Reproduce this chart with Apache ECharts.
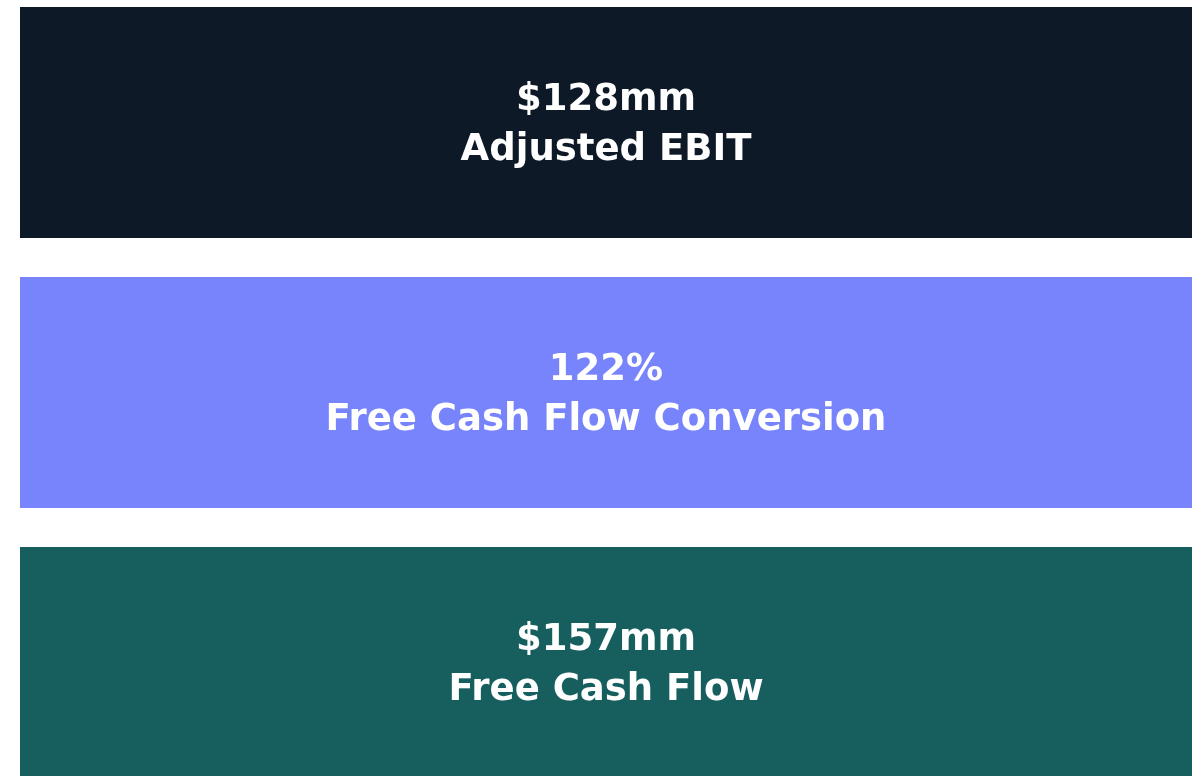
<!DOCTYPE html>
<html>
<head>
<meta charset="utf-8">
<script src="https://cdn.jsdelivr.net/npm/echarts@6/dist/echarts.min.js"></script>
<style>
html,body{margin:0;padding:0;background:#fff;}
#chart{width:1201px;height:776px;}
</style>
</head>
<body>
<div id="chart"></div>
<script>
var categories = ['Adjusted EBIT', 'Free Cash Flow Conversion', 'Free Cash Flow'];
var headlines = ['$128mm', '122%', '$157mm'];
var values = [1, 1, 1];
var colors = ['#0d1927', '#7884fc', '#175e5f'];

var chart = echarts.init(document.getElementById('chart'));
chart.setOption({
  animation: false,
  grid: { left: 20, right: 9, top: 122.5, bottom: 113.5 },
  xAxis: { type: 'value', min: 0, max: 1, show: false },
  yAxis: { type: 'category', data: categories, inverse: true, boundaryGap: false, show: false },
  series: [{
    type: 'bar',
    barWidth: 231,
    clip: false,
    data: values.map(function (v, i) {
      return { value: v, itemStyle: { color: colors[i] } };
    }),
    label: {
      show: true,
      position: 'inside',
      offset: [0, 3],
      formatter: function (p) {
        return '{a|' + headlines[p.dataIndex] + '}\n{a|' + categories[p.dataIndex] + '}';
      },
      rich: {
        a: {
          color: '#ffffff',
          fontFamily: 'DejaVu Sans',
          fontWeight: 'bold',
          fontSize: 37,
          lineHeight: 50,
          align: 'center'
        }
      }
    }
  }]
});
</script>
</body>
</html>
